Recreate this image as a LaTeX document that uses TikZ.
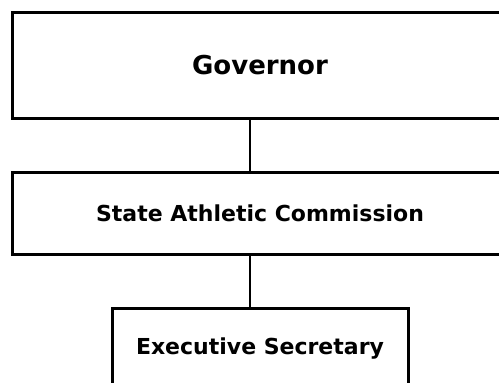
\documentclass[tikz,border=0pt]{standalone}
\usepackage{fontspec}
\setmainfont{DejaVu Sans}
\usepackage{tikz}

\tikzset{
  orgbox/.style={draw=black, line width=3pt, fill=white, inner sep=0pt, font=\bfseries},
  orglink/.style={draw=black, line width=2.8pt}
}

\begin{document}
\begin{tikzpicture}[x=1pt, y=-1pt]
\useasboundingbox[fill=white] (0,0) rectangle (499,383);
\clip (0,0) rectangle (499,383);

\node [orgbox, minimum width=496pt, minimum height=106pt] (gov) at (260,65)
  {\fontsize{26}{30}\selectfont Governor};
\node [orgbox, minimum width=496pt, minimum height=82pt] (sac) at (260,213)
  {\fontsize{22}{26}\selectfont State Athletic Commission};
\node [orgbox, minimum width=296pt, minimum height=130pt] (exec) at (260,373) {};
\node [font=\bfseries] (exectext) at (260,349)
  {\fontsize{22}{26}\selectfont Executive Secretary};

\draw [orglink] ([xshift=-10pt]gov.south) -- ([xshift=-10pt]sac.north);
\draw [orglink] ([xshift=-10pt]sac.south) -- ([xshift=-10pt]exec.north);
\end{tikzpicture}
\end{document}
